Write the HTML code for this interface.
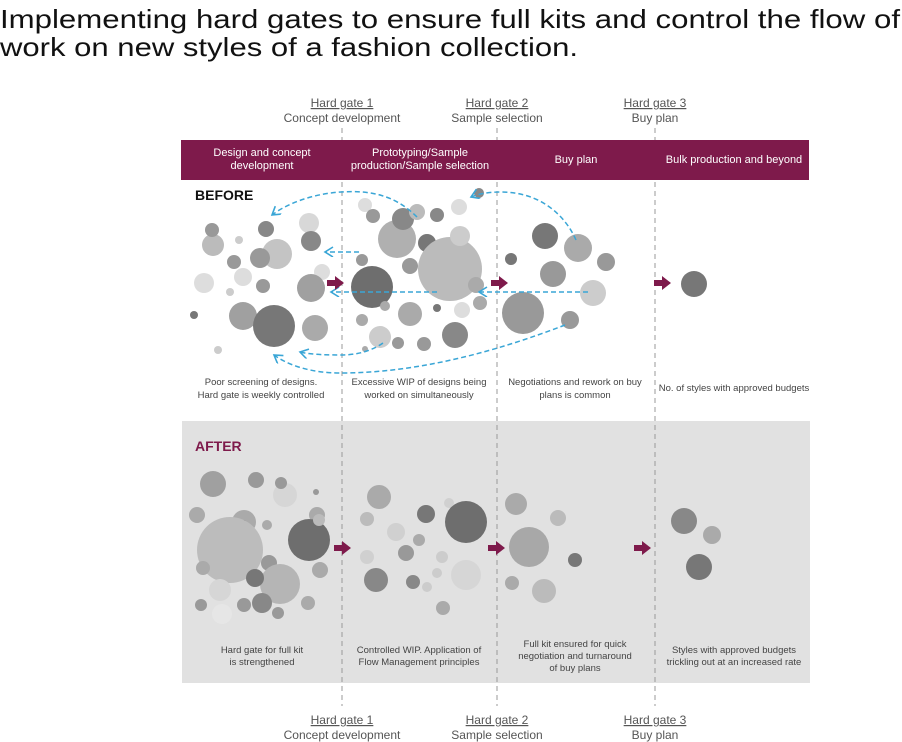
<!DOCTYPE html>
<html><head><meta charset="utf-8"><style>
html,body{margin:0;padding:0;background:#fff;}
svg{display:block;font-family:"Liberation Sans",sans-serif;}
</style></head><body>
<svg width="902" height="742" viewBox="0 0 902 742" xmlns="http://www.w3.org/2000/svg">
<defs>
<marker id="ah" markerWidth="12" markerHeight="12" refX="9" refY="5" orient="auto" markerUnits="userSpaceOnUse">
<path d="M1,0 L9,5 L1,10" fill="none" stroke="#3aa6d6" stroke-width="1.6"/>
</marker>
</defs>
<rect width="902" height="742" fill="#fff"/>
<text x="0" y="28" font-size="26" fill="#111" textLength="900" lengthAdjust="spacingAndGlyphs">Implementing hard gates to ensure full kits and control the flow of</text>
<text x="0" y="56" font-size="26" fill="#111" textLength="578" lengthAdjust="spacingAndGlyphs">work on new styles of a fashion collection.</text>

<rect x="182" y="421" width="628" height="262" fill="#e1e1e1"/>

<g font-size="12" fill="#555" text-anchor="middle">
<text x="342" y="107" text-decoration="underline">Hard gate 1</text><text x="342" y="122">Concept development</text>
<text x="497" y="107" text-decoration="underline">Hard gate 2</text><text x="497" y="122">Sample selection</text>
<text x="655" y="107" text-decoration="underline">Hard gate 3</text><text x="655" y="122">Buy plan</text>
<text x="342" y="724" text-decoration="underline">Hard gate 1</text><text x="342" y="739">Concept development</text>
<text x="497" y="724" text-decoration="underline">Hard gate 2</text><text x="497" y="739">Sample selection</text>
<text x="655" y="724" text-decoration="underline">Hard gate 3</text><text x="655" y="739">Buy plan</text>
</g>

<g stroke="#999" stroke-width="1" stroke-dasharray="5,4">
<line x1="342" y1="128" x2="342" y2="706"/>
<line x1="497" y1="128" x2="497" y2="706"/>
<line x1="655" y1="128" x2="655" y2="706"/>
</g>

<rect x="181" y="140" width="628" height="40" fill="#7e1a4b"/>
<g font-size="11" fill="#fff" text-anchor="middle">
<text x="262" y="156">Design and concept</text><text x="262" y="169">development</text>
<text x="420" y="156">Prototyping/Sample</text><text x="420" y="169">production/Sample selection</text>
<text x="576" y="163">Buy plan</text>
<text x="734" y="163">Bulk production and beyond</text>
</g>

<text x="195" y="200" font-size="14" font-weight="bold" fill="#111">BEFORE</text>
<text x="195" y="451" font-size="14" font-weight="bold" fill="#7e1a4b">AFTER</text>

<g>
<circle cx="213" cy="245" r="11" fill="#bbb"/><circle cx="212" cy="230" r="7" fill="#999"/>
<circle cx="239" cy="240" r="4" fill="#ccc"/><circle cx="266" cy="229" r="8" fill="#888"/>
<circle cx="277" cy="254" r="15" fill="#c4c4c4"/><circle cx="234" cy="262" r="7" fill="#999"/>
<circle cx="260" cy="258" r="10" fill="#999"/><circle cx="309" cy="223" r="10" fill="#d8d8d8"/>
<circle cx="311" cy="241" r="10" fill="#888"/><circle cx="322" cy="272" r="8" fill="#ddd"/>
<circle cx="204" cy="283" r="10" fill="#ddd"/><circle cx="243" cy="277" r="9" fill="#ddd"/>
<circle cx="263" cy="286" r="7" fill="#999"/><circle cx="230" cy="292" r="4" fill="#ccc"/>
<circle cx="311" cy="288" r="14" fill="#a0a0a0"/><circle cx="194" cy="315" r="4" fill="#777"/>
<circle cx="243" cy="316" r="14" fill="#a0a0a0"/><circle cx="274" cy="326" r="21" fill="#777"/>
<circle cx="315" cy="328" r="13" fill="#aaa"/><circle cx="218" cy="350" r="4" fill="#ccc"/>

<circle cx="365" cy="205" r="7" fill="#ddd"/><circle cx="373" cy="216" r="7" fill="#999"/>
<circle cx="397" cy="239" r="19" fill="#b0b0b0"/><circle cx="403" cy="219" r="11" fill="#888"/>
<circle cx="417" cy="212" r="8" fill="#bbb"/><circle cx="437" cy="215" r="7" fill="#888"/>
<circle cx="459" cy="207" r="8" fill="#ddd"/><circle cx="479" cy="193" r="5" fill="#888"/>
<circle cx="427" cy="243" r="9" fill="#777"/><circle cx="450" cy="269" r="32" fill="#bbb"/>
<circle cx="460" cy="236" r="10" fill="#ccc"/><circle cx="476" cy="285" r="8" fill="#aaa"/>
<circle cx="372" cy="287" r="21" fill="#6e6e6e"/><circle cx="362" cy="260" r="6" fill="#999"/>
<circle cx="410" cy="266" r="8" fill="#999"/><circle cx="362" cy="320" r="6" fill="#aaa"/>
<circle cx="385" cy="306" r="5" fill="#aaa"/><circle cx="410" cy="314" r="12" fill="#aaa"/>
<circle cx="437" cy="308" r="4" fill="#777"/><circle cx="462" cy="310" r="8" fill="#ddd"/>
<circle cx="380" cy="337" r="11" fill="#ccc"/><circle cx="365" cy="349" r="3" fill="#aaa"/>
<circle cx="398" cy="343" r="6" fill="#999"/><circle cx="424" cy="344" r="7" fill="#999"/>
<circle cx="455" cy="335" r="13" fill="#888"/><circle cx="480" cy="303" r="7" fill="#aaa"/>

<circle cx="545" cy="236" r="13" fill="#777"/><circle cx="578" cy="248" r="14" fill="#aaa"/>
<circle cx="511" cy="259" r="6" fill="#777"/><circle cx="553" cy="274" r="13" fill="#999"/>
<circle cx="606" cy="262" r="9" fill="#999"/><circle cx="593" cy="293" r="13" fill="#ccc"/>
<circle cx="523" cy="313" r="21" fill="#999"/><circle cx="570" cy="320" r="9" fill="#999"/>
<circle cx="694" cy="284" r="13" fill="#777"/>
</g>

<g fill="none" stroke="#3aa6d6" stroke-width="1.5" stroke-dasharray="5,3">
<path d="M417,217 C395,195 370,190 341,192 C310,194 285,205 272,215" marker-end="url(#ah)"/>
<path d="M576,240 C565,215 540,192 501,192 C488,192 478,194 471,197" marker-end="url(#ah)"/>
<path d="M359,252 L325,252" marker-end="url(#ah)"/>
<path d="M437,292 L331,292" marker-end="url(#ah)"/>
<path d="M588,292 L479,292" marker-end="url(#ah)"/>
<path d="M383,343 C370,352 355,355 341,355 C320,355 308,354 300,352" marker-end="url(#ah)"/>
<path d="M565,325 C500,350 420,373 341,373 C310,373 288,365 274,355" marker-end="url(#ah)"/>
</g>

<g fill="#7e1a4b">
<path d="M327,280 h8 v-4 l9,7 l-9,7 v-4 h-8z"/>
<path d="M491,280 h8 v-4 l9,7 l-9,7 v-4 h-8z"/>
<path d="M654,280 h8 v-4 l9,7 l-9,7 v-4 h-8z"/>
<path d="M334,545 h8 v-4 l9,7 l-9,7 v-4 h-8z"/>
<path d="M488,545 h8 v-4 l9,7 l-9,7 v-4 h-8z"/>
<path d="M634,545 h8 v-4 l9,7 l-9,7 v-4 h-8z"/>
</g>

<g font-size="9.5" fill="#444" text-anchor="middle">
<text x="261" y="385">Poor screening of designs.</text><text x="261" y="398">Hard gate is weekly controlled</text>
<text x="419" y="385">Excessive WIP of designs being</text><text x="419" y="398">worked on simultaneously</text>
<text x="575" y="385">Negotiations and rework on buy</text><text x="575" y="398">plans is common</text>
<text x="734" y="391">No. of styles with approved budgets</text>
</g>

<g>
<circle cx="213" cy="484" r="13" fill="#a0a0a0"/><circle cx="256" cy="480" r="8" fill="#999"/>
<circle cx="285" cy="495" r="12" fill="#d6d6d6"/><circle cx="281" cy="483" r="6" fill="#999"/>
<circle cx="316" cy="492" r="3" fill="#999"/><circle cx="197" cy="515" r="8" fill="#aaa"/>
<circle cx="244" cy="522" r="12" fill="#aaa"/><circle cx="243" cy="524" r="4" fill="#666"/>
<circle cx="267" cy="525" r="5" fill="#aaa"/><circle cx="317" cy="515" r="8" fill="#aaa"/>
<circle cx="230" cy="550" r="33" fill="#bcbcbc"/><circle cx="309" cy="540" r="21" fill="#6e6e6e"/>
<circle cx="319" cy="520" r="6" fill="#bbb"/><circle cx="269" cy="563" r="8" fill="#999"/>
<circle cx="203" cy="568" r="7" fill="#aaa"/><circle cx="320" cy="570" r="8" fill="#aaa"/>
<circle cx="280" cy="584" r="20" fill="#b5b5b5"/><circle cx="220" cy="590" r="11" fill="#d6d6d6"/>
<circle cx="255" cy="578" r="9" fill="#777"/><circle cx="201" cy="605" r="6" fill="#999"/>
<circle cx="244" cy="605" r="7" fill="#999"/><circle cx="262" cy="603" r="10" fill="#888"/>
<circle cx="278" cy="613" r="6" fill="#999"/><circle cx="308" cy="603" r="7" fill="#aaa"/>
<circle cx="222" cy="614" r="10" fill="#e6e6e6"/>

<circle cx="379" cy="497" r="12" fill="#aaa"/><circle cx="449" cy="503" r="5" fill="#d0d0d0"/>
<circle cx="426" cy="514" r="9" fill="#777"/><circle cx="466" cy="522" r="21" fill="#6e6e6e"/>
<circle cx="367" cy="519" r="7" fill="#bbb"/><circle cx="396" cy="532" r="9" fill="#d0d0d0"/>
<circle cx="419" cy="540" r="6" fill="#aaa"/><circle cx="367" cy="557" r="7" fill="#d0d0d0"/>
<circle cx="406" cy="553" r="8" fill="#999"/><circle cx="442" cy="557" r="6" fill="#ccc"/>
<circle cx="466" cy="575" r="15" fill="#d6d6d6"/><circle cx="376" cy="580" r="12" fill="#888"/>
<circle cx="413" cy="582" r="7" fill="#888"/><circle cx="437" cy="573" r="5" fill="#ccc"/>
<circle cx="427" cy="587" r="5" fill="#ccc"/><circle cx="443" cy="608" r="7" fill="#aaa"/>

<circle cx="516" cy="504" r="11" fill="#aaa"/><circle cx="529" cy="547" r="20" fill="#a8a8a8"/>
<circle cx="558" cy="518" r="8" fill="#bbb"/><circle cx="575" cy="560" r="7" fill="#777"/>
<circle cx="512" cy="583" r="7" fill="#aaa"/><circle cx="544" cy="591" r="12" fill="#bbb"/>

<circle cx="684" cy="521" r="13" fill="#888"/><circle cx="712" cy="535" r="9" fill="#aaa"/>
<circle cx="699" cy="567" r="13" fill="#777"/>
</g>

<g font-size="9.5" fill="#444" text-anchor="middle">
<text x="262" y="653">Hard gate for full kit</text><text x="262" y="665">is strengthened</text>
<text x="419" y="653">Controlled WIP. Application of</text><text x="419" y="665">Flow Management principles</text>
<text x="575" y="647">Full kit ensured for quick</text><text x="575" y="659">negotiation and turnaround</text><text x="575" y="671">of buy plans</text>
<text x="734" y="653">Styles with approved budgets</text><text x="734" y="665">trickling out at an increased rate</text>
</g>
</svg>
</body></html>
